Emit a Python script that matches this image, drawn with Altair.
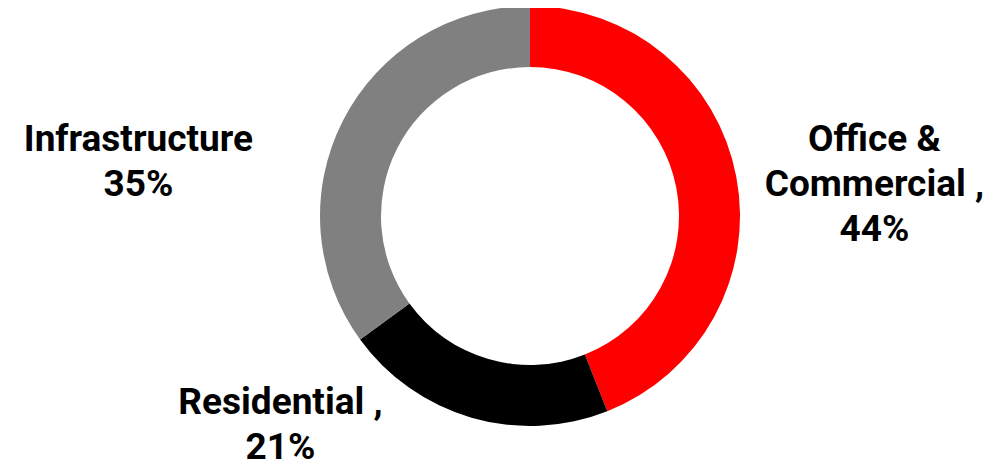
import altair as alt
import pandas as pd

categories = ["Office & Commercial", "Residential", "Infrastructure"]
shares = [44, 21, 35]
label_lines = [["Office &", "Commercial ,", "44%"], ["Residential ,", "21%"], ["Infrastructure", "35%"]]
colors = ["#FF0000", "#000000", "#808080"]

df = pd.DataFrame({
    "category": categories,
    "share": shares,
    "order": list(range(len(categories))),
    "label": label_lines,
})

W, H = 932, 416
total = sum(shares)

ring = alt.Chart(df).mark_arc(outerRadius=210, innerRadius=149, stroke=None).encode(
    theta=alt.Theta("share:Q", stack=True, scale=alt.Scale(domain=[0, total])),
    order=alt.Order("order:Q"),
    color=alt.Color("category:N", scale=alt.Scale(domain=categories, range=colors), legend=None),
)

offsets = {
    "Office & Commercial": (89, -27),
    "Residential": (-177, -63),
    "Infrastructure": (-160, 42),
}

texts = []
for cat in categories:
    dx, dy = offsets[cat]
    t = (
        alt.Chart(df)
        .transform_stack(stack="share", groupby=[], as_=["s0", "s1"], sort=[alt.SortField("order")])
        .transform_calculate(mid="(datum.s0 + datum.s1) / 2")
        .transform_filter(alt.datum.category == cat)
        .mark_text(
            radius=260, dx=dx, dy=dy, align="center", baseline="middle",
            font="Roboto", fontSize=37, fontWeight="bold", lineHeight=45, color="#000000",
        )
        .encode(
            theta=alt.Theta("mid:Q", stack=None, scale=alt.Scale(domain=[0, total])),
            text="label",
        )
    )
    texts.append(t)

chart = alt.layer(ring, *texts).properties(
    width=W, height=H,
    autosize=alt.AutoSizeParams(type="none"),
    padding={"left": 56, "top": 0, "right": 0, "bottom": 47},
).configure_view(stroke=None)

chart.save("out.html", embed_options={"renderer": "svg", "actions": False})
